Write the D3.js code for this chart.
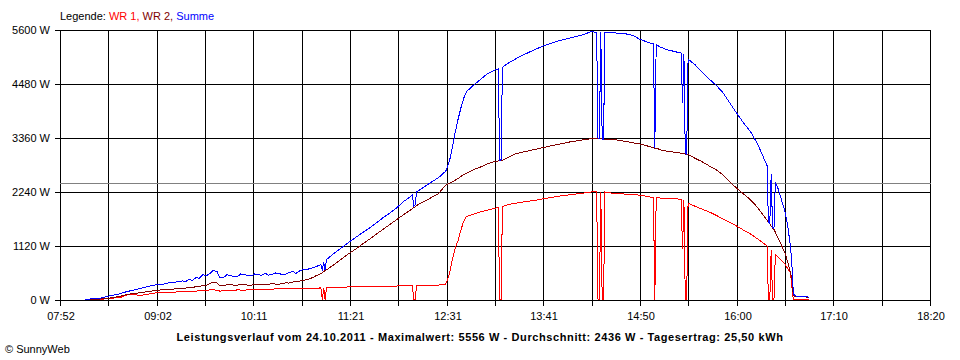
<!DOCTYPE html>
<html>
<head>
<meta charset="utf-8">
<script src="https://cdn.jsdelivr.net/npm/d3@7"></script>
<style>
  html, body { margin: 0; padding: 0; background: #fff; }
  svg { display: block; }
  text { font-family: "Liberation Sans", Arial, sans-serif; font-size: 11px; fill: #000; }
</style>
</head>
<body>
<svg id="chart" width="960" height="360"></svg>
<script>
// ---------------- data ----------------
const legendLabels = ["WR 1", "WR 2", "Summe"];
const xTickLabels = ["07:52","09:02","10:11","11:21","12:31","13:41","14:50","16:00","17:10","18:20"];
const yTicks = [0, 1120, 2240, 3360, 4480, 5600];
const average = 2436;
const titleText = "Leistungsverlauf vom 24.10.2011 - Maximalwert: 5556 W - Durchschnitt: 2436 W - Tagesertrag: 25,50 kWh";
const creditText = "\u00A9 SunnyWeb";

const times = [
  "08:10","08:15","08:20","08:25","08:30","08:35","08:40","08:45","08:50","08:55",
  "09:00","09:05","09:10","09:15","09:20","09:22","09:25","09:27","09:30","09:32",
  "09:35","09:37","09:40","09:42","09:45","09:47","09:50","09:52","09:55","09:57",
  "10:00","10:02","10:05","10:07","10:10","10:12","10:15","10:17","10:20","10:22",
  "10:25","10:27","10:30","10:32","10:35","10:37","10:40","10:42","10:45","10:47",
  "10:50","10:52","10:55","10:57","11:00","11:01","11:02","11:03","11:04","11:05",
  "11:10","11:15","11:20","11:25","11:30","11:35","11:40","11:45","11:50","11:55",
  "12:00","12:05","12:06","12:07","12:08","12:09","12:10","12:15","12:20","12:25",
  "12:30","12:31","12:33","12:35","12:37","12:39","12:41","12:43","12:45","12:50",
  "12:55","13:00","13:05","13:08","13:09","13:10","13:11","13:15","13:20","13:25",
  "13:30","13:35","13:40","13:45","13:50","13:55","14:00","14:05","14:10","14:15",
  "14:19","14:20","14:21","14:22","14:23","14:24","14:25","14:30","14:35","14:40",
  "14:45","14:50","14:55","15:00","15:01","15:02","15:05","15:10","15:15","15:20",
  "15:21","15:22","15:23","15:24","15:25","15:30","15:35","15:40","15:45","15:50",
  "15:55","16:00","16:05","16:10","16:15","16:20","16:22","16:23","16:24","16:25",
  "16:26","16:27","16:28","16:30","16:35","16:36","16:37","16:38","16:39","16:40",
  "16:41","16:42","16:45","16:48","16:51","16:52"
];

const wr1 = [
  0,0,0,15,30,40,95,100,85,110,
  135,150,150,155,165,160,170,165,175,180,
  185,190,200,215,185,175,180,190,195,190,
  200,195,195,200,205,205,210,205,210,215,
  215,220,220,220,220,225,225,225,225,230,
  230,235,235,235,240,0,240,0,245,245,
  250,255,260,265,265,270,270,275,275,280,
  285,290,290,0,0,290,290,295,295,300,
  320,380,560,850,1080,1220,1440,1620,1720,1770,
  1815,1850,1890,1910,0,0,1925,1970,1995,2020,
  2040,2060,2085,2110,2135,2155,2175,2190,2210,2230,
  2235,0,0,2235,0,0,2230,2205,2195,2185,
  2175,2165,2140,2115,0,2110,2105,2095,2090,2080,
  1040,2070,0,0,2000,1935,1875,1820,1750,1675,
  1605,1525,1440,1360,1260,1155,1110,0,0,1025,
  0,0,940,880,730,680,640,595,550,250,
  0,0,0,0,0,0
];

const wr2 = [
  0,0,10,20,40,65,105,125,140,165,
  185,200,210,220,230,235,250,245,270,265,
  300,290,335,350,345,290,290,305,310,295,
  300,315,310,300,300,315,320,310,320,310,
  335,320,320,335,345,340,365,370,385,395,
  415,430,470,500,540,555,580,600,620,635,
  735,845,950,1045,1150,1250,1355,1460,1560,1665,
  1765,1865,1885,1905,1925,1945,1965,2040,2120,2200,
  2370,2385,2410,2445,2475,2510,2550,2590,2620,2690,
  2745,2810,2860,2875,2880,2885,2890,2940,3015,3055,
  3085,3115,3150,3180,3210,3240,3270,3290,3315,3335,
  3335,3335,3330,3330,3330,3325,3325,3325,3300,3280,
  3250,3225,3190,3145,3140,3140,3105,3075,3055,3035,
  3030,3025,3015,3005,3005,2930,2860,2775,2695,2590,
  2445,2310,2190,2070,1915,1720,1645,1605,1565,1525,
  1485,1455,1395,1275,960,870,765,660,545,420,
  80,65,60,55,50,45
];

const summe = [
  0,15,20,60,90,120,165,195,230,270,
  300,310,345,360,385,370,415,395,460,440,
  520,490,540,600,580,455,460,510,500,470,
  480,530,520,490,490,530,520,500,540,505,
  520,550,540,510,530,560,580,540,600,620,
  625,640,665,690,720,600,780,610,830,850,
  970,1075,1185,1285,1385,1480,1590,1700,1800,1910,
  2040,2140,2175,1940,1960,2235,2250,2345,2440,2530,
  2660,2720,2900,3180,3480,3740,3970,4170,4310,4440,
  4560,4680,4750,4785,2890,2895,4815,4900,4980,5060,
  5125,5190,5255,5305,5350,5390,5425,5460,5500,5556,
  5540,3340,3335,5545,3330,3325,5535,5530,5525,5510,
  5480,5400,5345,5300,3150,5290,5235,5180,5145,5110,
  4070,5095,3020,3010,4985,4870,4720,4580,4450,4300,
  4080,3870,3665,3485,3235,2910,2780,1610,1570,2605,
  1490,1460,2435,2300,1820,1675,1510,1300,1090,700,
  130,75,65,55,55,50
];

// ---------------- drawing ----------------
const toMin = s => { const p = s.split(":"); return (+p[0]) * 60 + (+p[1]); };
const svg = d3.select("#chart");
svg.append("rect").attr("width", 960).attr("height", 360).attr("fill", "#fff");

const tStart = toMin(xTickLabels[0]);
const tEnd = toMin(xTickLabels[xTickLabels.length - 1]);
const x = d3.scaleLinear().domain([tStart, tEnd]).range([60, 930]);
const y = d3.scaleLinear().domain([0, d3.max(yTicks)]).range([300, 30]);

const nGrid = (xTickLabels.length - 1) * 2;
const gridTimes = d3.range(nGrid + 1).map(k => tStart + k * (tEnd - tStart) / nGrid);

const grid = svg.append("g").attr("shape-rendering", "crispEdges");
// vertical grid lines with ticks below
grid.selectAll("line.v").data(gridTimes).join("line")
  .attr("class", "v")
  .attr("x1", d => Math.round(x(d)) + 0.5).attr("x2", d => Math.round(x(d)) + 0.5)
  .attr("y1", 30).attr("y2", 306)
  .attr("stroke", "#000").attr("stroke-width", 1);
// horizontal grid lines with ticks left
grid.selectAll("line.h").data(yTicks).join("line")
  .attr("class", "h")
  .attr("x1", 55).attr("x2", 931)
  .attr("y1", d => Math.round(y(d)) + 0.5).attr("y2", d => Math.round(y(d)) + 0.5)
  .attr("stroke", "#000").attr("stroke-width", 1);
// average line
grid.append("line")
  .attr("x1", 60).attr("x2", 931)
  .attr("y1", Math.round(y(average)) + 0.5).attr("y2", Math.round(y(average)) + 0.5)
  .attr("stroke", "#808080").attr("stroke-width", 1);

// data lines
const tm = times.map(toMin);
const line = d3.line().x(d => x(d[0])).y(d => y(d[1]));
const seriesList = [
  { values: wr1, color: "#ff0000" },
  { values: wr2, color: "#800000" },
  { values: summe, color: "#0000ff" }
];
const dataG = svg.append("g").attr("transform", "translate(0.5,-0.5)");
seriesList.forEach(s => {
  dataG.append("path")
    .attr("d", line(tm.map((t, i) => [t, s.values[i]])))
    .attr("fill", "none")
    .attr("stroke", s.color)
    .attr("stroke-width", 1)
    .attr("stroke-linejoin", "miter")
    .attr("shape-rendering", "crispEdges");
});

// y labels
svg.selectAll("text.yl").data(yTicks).join("text")
  .attr("class", "yl")
  .attr("x", 50).attr("y", d => Math.round(y(d)) + 4)
  .attr("text-anchor", "end")
  .text(d => d + " W");

// x labels
svg.selectAll("text.xl").data(xTickLabels).join("text")
  .attr("class", "xl")
  .attr("x", (d, i) => Math.round(x(gridTimes[i * 2])) + 1)
  .attr("y", 320)
  .attr("text-anchor", "middle")
  .text(d => d);

// legend
const leg = svg.append("text").attr("x", 60).attr("y", 20);
leg.append("tspan").text("Legende: ");
const legColors = ["#ff0000", "#800000", "#0000ff"];
legendLabels.forEach((l, i) => {
  leg.append("tspan").attr("fill", legColors[i]).style("fill", legColors[i])
    .text(l + (i < legendLabels.length - 1 ? ", " : ""));
});

// title
svg.append("text").attr("x", 480).attr("y", 341)
  .attr("text-anchor", "middle").style("font-weight", "bold")
  .style("letter-spacing", "0.6px")
  .text(titleText);

// credit
svg.append("text").attr("x", 5).attr("y", 353).text(creditText);
</script>
</body>
</html>
